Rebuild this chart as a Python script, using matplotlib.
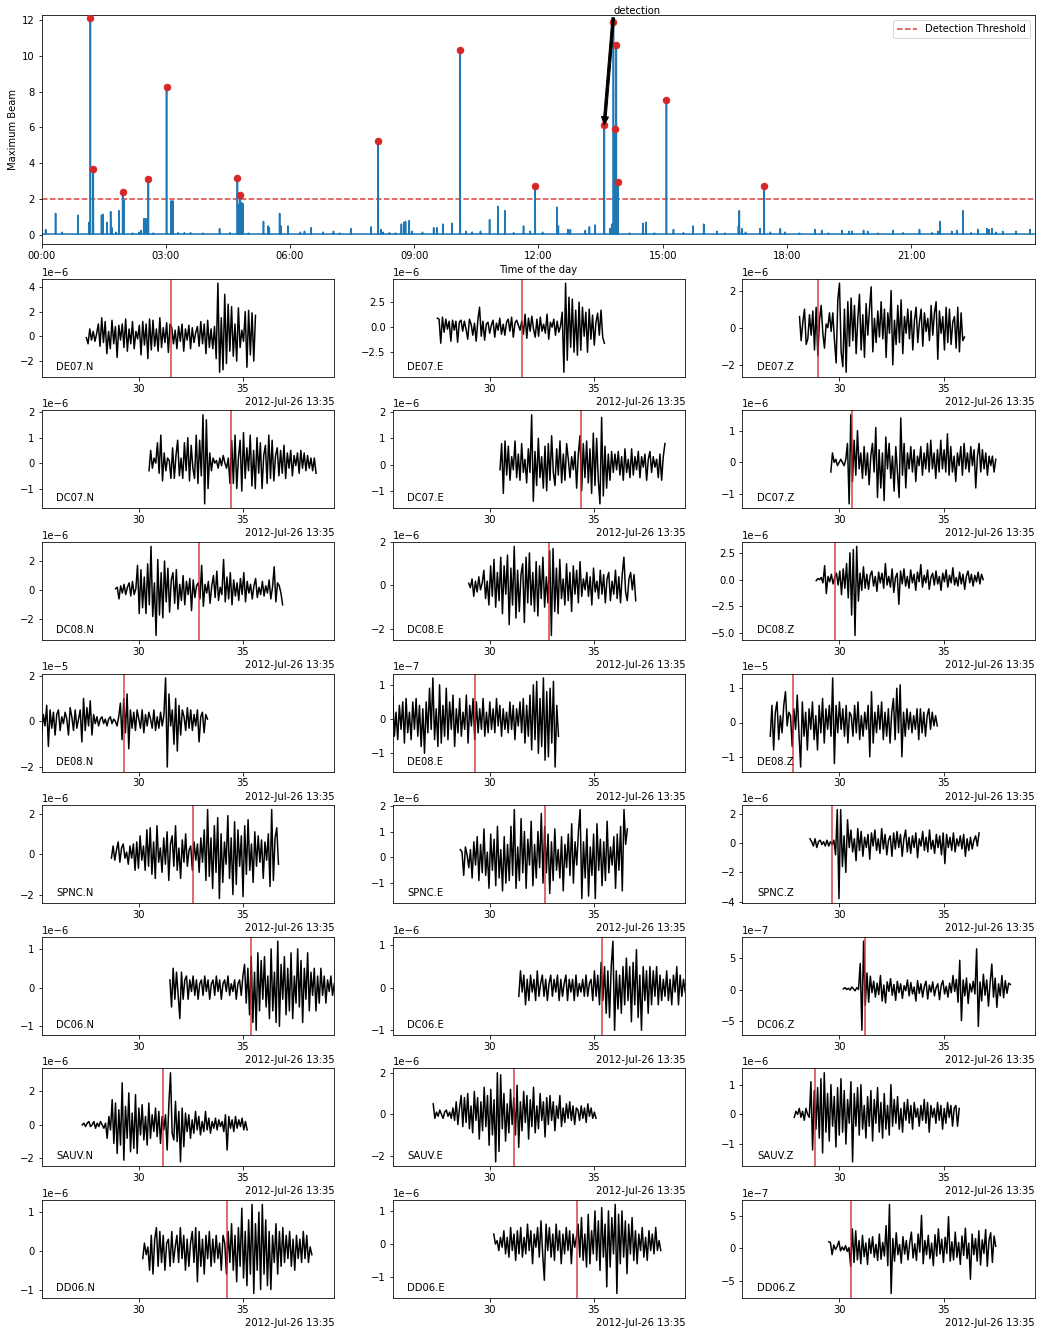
import numpy as np
import matplotlib
matplotlib.use("Agg")
import matplotlib.pyplot as plt
import matplotlib.dates as mdates

# ---------------- top panel data (hours of 2012-07-26, beam value) -------------
det_hours = [1.18, 1.25, 1.96, 2.58, 3.02, 4.73, 4.80, 8.13, 10.11, 11.92,
             13.59, 13.81, 13.85, 13.88, 13.92, 15.09, 17.45]
det_values = [12.1, 3.7, 2.4, 3.1, 8.25, 3.2, 2.25, 5.25, 10.3, 2.75,
              6.15, 11.9, 5.9, 10.6, 2.95, 7.55, 2.75]

minor_hours = [0.10, 0.34, 0.50, 0.88, 1.15, 1.45, 1.48, 1.58, 1.67, 1.70, 1.80,
               1.87, 1.99, 2.20, 2.35, 2.40, 2.47, 2.50, 2.54, 2.70, 3.13, 3.17,
               3.30, 3.45, 3.60, 3.90, 4.30, 4.55, 4.76, 4.83, 4.86, 5.00, 5.36,
               5.47, 5.50, 5.75, 5.78, 5.95, 6.25, 6.35, 6.51, 6.80, 7.05, 7.20,
               7.47, 7.96, 8.20, 8.25, 8.40, 8.55, 8.69, 8.75, 8.79, 8.88, 8.95,
               9.20, 9.47, 9.55, 9.69, 9.91, 10.25, 10.40, 10.60, 10.82, 11.02,
               11.19, 11.40, 11.64, 11.80, 12.10, 12.45, 12.48, 12.71, 12.77,
               13.13, 13.23, 13.37, 13.73, 13.77, 13.83, 14.20, 14.52, 14.60,
               14.80, 15.26, 15.50, 15.73, 15.99, 16.31, 16.50, 16.83, 16.85,
               16.91, 17.00, 17.35, 17.60, 17.84, 17.95, 18.30, 18.68, 18.84,
               19.00, 19.33, 19.50, 19.57, 19.85, 19.95, 20.20, 20.56, 20.80,
               21.20, 21.50, 21.65, 21.70, 21.98, 22.10, 22.25, 22.45, 22.61,
               22.83, 22.88, 22.95, 23.05, 23.21, 23.53, 23.87]
minor_values = [0.30, 1.20, 0.15, 1.10, 0.70, 1.10, 1.15, 0.70, 1.30, 0.40, 0.15,
                1.35, 1.95, 0.10, 0.15, 0.25, 0.90, 0.90, 0.90, 0.10, 1.90, 1.90,
                0.12, 0.12, 0.12, 0.10, 0.35, 0.12, 1.70, 1.80, 1.75, 0.10, 0.75,
                0.50, 0.40, 1.20, 0.50, 0.50, 0.15, 0.20, 0.40, 0.15, 0.20, 0.10,
                0.35, 0.45, 0.30, 0.15, 0.12, 0.10, 0.60, 0.70, 0.75, 0.80, 0.20,
                0.15, 0.40, 0.40, 0.60, 0.65, 0.20, 0.15, 0.20, 0.85, 1.60,
                1.35, 0.12, 0.50, 0.20, 0.15, 1.55, 0.50, 0.30, 0.30,
                0.25, 0.45, 0.55, 0.35, 0.60, 4.50, 0.10, 0.65, 0.70,
                0.10, 0.30, 0.12, 0.50, 0.60, 0.20, 0.10, 0.50, 1.35,
                0.35, 0.15, 0.35, 0.15, 0.35, 0.15, 0.10, 0.30, 0.25,
                0.10, 0.25, 0.20, 0.20, 0.25, 0.20, 0.10, 0.25, 0.12,
                0.30, 0.12, 0.20, 0.75, 0.20, 0.25, 1.35, 0.12, 0.30,
                0.35, 0.30, 0.35, 0.15, 0.20, 0.20, 0.30]
baseline = 0.05
threshold = 2.0
arrow_from = (13.81, 11.9)
arrow_to = (13.59, 6.15)

# ---------------- waveform panels (seconds after 13:35:00) ----------------------
stations = ["DE07.N", "DE07.E", "DE07.Z", "DC07.N", "DC07.E", "DC07.Z",
            "DC08.N", "DC08.E", "DC08.Z", "DE08.N", "DE08.E", "DE08.Z",
            "SPNC.N", "SPNC.E", "SPNC.Z", "DC06.N", "DC06.E", "DC06.Z",
            "SAUV.N", "SAUV.E", "SAUV.Z", "DD06.N", "DD06.E", "DD06.Z"]
starts = [27.5, 27.5, 28.1, 30.5, 30.5, 29.6, 28.9, 29.0, 28.9, 25.36, 25.36, 26.7,
          28.7, 28.6, 28.6, 31.5, 31.4, 30.2, 27.3, 27.3, 27.85, 30.2, 30.2, 29.5]
ends = [35.6, 35.5, 36.0, 38.5, 38.4, 37.5, 36.9, 37.0, 36.9, 33.3, 33.3, 34.7,
        36.7, 36.6, 36.7, 39.37, 39.37, 38.2, 35.2, 35.1, 35.75, 38.3, 38.2, 37.5]
picks = [31.55, 31.55, 29.0, 34.41, 34.37, 30.6, 32.88, 32.85, 29.78, 29.32, 29.3, 27.8,
         32.63, 32.64, 29.66, 35.37, 35.38, 31.22, 31.15, 31.15, 28.82, 34.23, 34.2, 30.56]
units = [1e-7, 1e-7, 1e-7, 1e-7, 1e-7, 1e-7, 1e-7, 1e-7, 1e-7, 1e-6, 1e-8, 1e-6,
         1e-7, 1e-7, 1e-7, 1e-7, 1e-7, 1e-8, 1e-7, 1e-7, 1e-7, 1e-7, 1e-7, 1e-8]

w_DE07_N = [-1, -6, 6, -3, 4, -4, 2, 10, -8, 15,
            -5, 12, -14, 4, -10, 13, -6, 8, -17, 9,
            -3, 10, -9, 14, -12, 6, -6, 12, -10, 4,
            -2, 9, -15, 12, -7, 10, -18, 14, -11, 13,
            -8, 6, -12, 15, -9, 7, -5, 11, -13, 10,
            7, -6, 5, -10, 8, -4, 10, -12, 6, -3,
            9, -10, 7, -5, 3, 8, -8, 12, -6, 10,
            -14, 13, -9, 6, -10, 8,
            -18, 43, -29, 15, -27, 34, -22, 26, -12, 24, -16, 10,
            -20, 23, -9, 5, -4, 20, -25, 21, -15, 19, -20, 17]
w_DE07_E = [9, 8, -16, 10, -5, 8, -2, 6, -14, 7,
            -3, 6, -15, 5, 7, -4, 6, -2, -12, 8,
            3, -8, 4, -14, 7, 20, -9, 6, -13, 3,
            5, -6, 2, 7, -10, 4, -3, 9, -7, 3,
            -8, 5, 8, -4, 10, -10, 4, 7, 2, -3,
            6, -7, 13, -11, 9, -4, 11, -2, -10, 8,
            -9, 10, -4, 3, -6, 13, -12, 5, 0, 8,
            -8, 6, -5, 1, 15,
            -45, 44, -33, 30, -20, 28, -25, 17, -28, 25, -23, 20, -9,
            15, -25, 18, -12, 12, -18, 5, 14, -8, 17, -10, -16]
w_DE07_Z = [6, -7, 3, 10, -9, -6, 7, -4, 9, -12,
            11, -15, 4, 12, -3, -11, 2, 0, 8, -2,
            8, -7, -19, 15, 24, -13, -21, 10, -24, 14,
            -10, 16, -7, 12, -14, 5, 18, -12, 7, -16,
            13, -4, 10, 22, -13, 5, -8, 9, -5, 14,
            -6, 10, -16, 8, -3, 20, -20, 4, -9, 12,
            -8, 15, -14, 6, -3, 10, -6, 9, -12, 4,
            11, -8, 3, 10, -10, 8, -2, 5, -7, 12,
            -4, 8, 14, -17, 9, -3, 6, -12, 11, -8,
            10, -9, 3, 6, -11, 11, -13, 8, -7, -5]
w_DC07_N = [-3, 5, -2, 2, 0, 8, -4, 11, -7, 4,
            -3, 2, 1, -6, 6, -6, 3, 9, -5, 2,
            -6, 8, -3, 10, -7, 7, -2, -6, 11, -8,
            9, -5, 19, -16, 17, -10, 4, -3, 2, 0,
            1, -2, 2, -1, 3, 0, -2, 2, -8, 9,
            -8, 11, -10, 2, 9, -11, 12, -6, 6, -3,
            11, -9, 5, -10, 10, -4, 8, -10, 3, 7,
            -8, 11, -6, 9, -7, 3, 6, -5, 5, -4,
            7, -6, 4, -2, 5, -5, 3, -1, 4, -4,
            5, -2, 4, -3, 3, -2, 2, -3, 2, -4]
w_DC07_E = [-2, 8, -11, 9, -4, 7, -6, 3, -2, 9,
            -5, 4, -6, 8, -3, 2, -7, 6, -3, 19,
            -14, 5, -8, 10, -5, 3, -9, 7, -10, 8,
            -6, 11, -3, -8, 6, -4, 9, -7, 4, -6,
            8, 2, -5, 3, -2, 5, -9, 4, 11, -10,
            8, -5, 9, -7, 6, -11, 12, -8, 10, -6,
            -15, 18, -12, 7, -9, 4, -6, 5, -3, 4,
            -2, 5, -4, 3, -6, 6, -3, 2, -5, 6,
            -4, 3, -2, 5, -5, 3, -1, 4, -6, 2,
            5, -3, 3, -1, 2, -5, 4, -6, 3, 8]
w_DC07_Z = [-3, 3, 0, 1, -1, 0, 1, 0, -1, 1,
            6, -13, 15, -6, 7, -4, 10, -2, 3, -5,
            5, -4, 3, -7, 2, 6, -3, 11, -11, 4,
            -8, 3, -12, 8, -2, 6, -5, 2, -9, 5,
            -3, -11, 14, -4, 6, -8, 3, -2, 5, -3,
            4, -6, 2, -1, 5, -4, 3, -2, 6, -3,
            7, -2, 3, -5, 4, -3, 7, -2, 4, -3,
            9, -4, 5, -3, 2, -6, 3, -1, 5, -4,
            6, -2, 3, -3, 5, -1, 4, -8, 2, 6,
            -3, 4, -2, 3, -4, 2, -1, 2, -3, 1]
w_DC08_N = [1, 2, -6, 3, -2, 4, -3, 2, 5, -4,
            6, -3, 1, 17, -16, 14, -12, 9, -16, 18,
            -10, 30, -18, 5, -31, 21, -17, 12, -19, 20,
            -8, 15, -15, 7, 12, -9, 14, -13, 4, -7,
            10, -10, 6, -3, 8, -14, 7, -5, 3, 5,
            -6, 17, -11, 4, -2, 6, -9, 3, 10, -5,
            13, -7, 2, -3, 21, -8, 9, -6, 12, -10,
            7, -4, 5, -7, 8, -3, 12, -8, 6, -2,
            4, -6, 3, 8, -5, 2, -3, 6, -4, 3,
            -2, 7, -6, 2, 16, -8, 5, 3, -2, -10]
w_DC08_E = [1, -1, 3, -5, 2, -3, 4, -2, 1, 7,
            -6, 2, -9, 9, -5, 12, -10, 6, -7, 13,
            -13, 9, -4, 14, -18, 8, -9, 18, -15, 7,
            -12, 5, 10, -17, 13, -8, 15, -9, 6, -12,
            11, -14, 9, -6, 13, -10, 4, -8, 16, -23,
            17, -12, 8, -13, 12, -6, 3, -9, 10, -7,
            6, -12, 9, -4, 7, -8, 11, -5, 3, -2,
            6, -5, 4, -9, 8, -3, 2, -6, 7, -4,
            5, -8, 3, 6, -7, 2, -4, 7, -6, 4,
            -8, 5, 13, -3, -7, 3, 6, -2, 5, -7]
w_DC08_Z = [-1, 1, 0, 2, -3, 13, -13, 3, -2, 5,
            -4, 2, 6, -5, 8, -14, 10, -8, 15, -17,
            25, -33, 28, -52, 31, -20, 6, -10, 12, -8,
            5, -9, 4, 8, -6, 3, -11, 7, -3, 6,
            -8, 15, -5, 3, -7, 10, -12, 2, 6, -23,
            8, -4, 10, -6, 3, -8, 9, -3, 5, -10,
            7, -2, 14, -7, 4, -3, 9, -9, 2, 6,
            -5, 8, -4, 3, -10, 6, -2, 9, -7, 4,
            -3, 11, -5, 2, -6, 7, -4, 5, -9, 3,
            8, -3, 5, -6, 4, -2, 7, -4, 5, 0]
w_DE08_N = [-5, 3, -2, 7, -11, 5, -3, 4, -6, 3,
            5, -4, 2, -1, 4, 1, -6, 6, 2, -4,
            5, -3, 1, 5, -9, 10, -4, 6, -2, 9,
            -6, 3, -1, 2, -2, 1, 2, -1, 1, -2,
            1, 2, -1, 1, 0, -2, 2, 8, -8, 10,
            -5, 12, -12, 5, -3, 4, -4, 5, 1, -3,
            5, -5, 3, -2, 4, 1, -3, 5, -4, 2,
            -3, 4, -2, 3, 19, -20, 12, -2, 5, -10,
            10, -13, 7, -6, 5, 2, -4, 6, -3, 5,
            -4, 3, -2, 5, -9, 2, 4, -5, 3, 1]
w_DE08_E = [7, -5, 2, -6, 4, -3, 5, -7, 6, -4,
            2, -6, 5, -3, 6, -5, 4, -8, 3, -10,
            5, -4, 9, -3, 12, -6, 3, -8, 10, -7,
            4, -5, 9, -6, 5, -3, 7, -8, 3, -4,
            6, -5, 2, -3, 7, -7, 4, -2, 6, -6,
            5, -4, 3, -3, 6, -5, 2, -4, 5, -3,
            3, -4, 6, -2, 4, -5, 3, -3, 2, -4,
            5, -3, 4, -6, 3, -2, 5, -4, 6, -7,
            4, -5, 7, -9, 10, -6, 11, -10, 6, -8,
            12, -12, 8, -11, 9, -7, 11, -14, 4, -5]
w_DE08_Z = [-4, 5, -8, 3, 6, -5, 2, -3, 5, 9,
            -1, 3, 2, -7, 4, -2, 8, -3, -13, 6,
            -4, 3, -8, 4, -2, 6, -5, 2, -8, 5,
            -3, 7, -6, 4, -2, 5, -4, 13, -12, 5,
            -3, 6, -2, 4, -4, 5, -6, 3, 2, -4,
            5, -3, 6, -5, 2, -4, 3, -2, 5, -10,
            9, -6, 3, -3, 5, -2, 6, -5, 3, -4,
            4, -6, 3, 7, -5, 10, -3, 11, -10, 3,
            -4, 4, -2, 3, -3, 2, -2, 4, -5, 4,
            -3, 3, -4, 2, 4, -2, 3, -1, 2, -1]
w_SPNC_N = [-2, 4, -3, 2, 6, -4, 3, 5, -2, 1,
            -5, 4, -2, 5, -8, 6, -7, 9, -3, 4,
            -8, 12, -6, 13, -10, 6, -12, 14, -4, 3,
            -9, 8, -5, 11, -13, 5, 9, -6, 14, -8,
            3, -12, 7, -4, 10, -6, 2, 4, -8, 6,
            -3, 5, -9, 8, -4, 12, -13, 22, -11, 8,
            -17, 14, -9, 18, -22, 10, -14, 6, -5, 19,
            -12, 8, -20, 16, -15, 12, -6, 9, -21, 14,
            -10, 17, -8, 5, -14, 11, -6, 9, -4, 7,
            -12, 6, -3, 10, -16, 22, -13, 8, 13, -5]
w_SPNC_E = [3, 2, -7, 4, 1, -4, 3, -8, 6, -3,
            8, -9, 5, -6, 11, -7, 2, -12, 9, -5,
            7, -11, 12, -8, 3, -13, 8, -10, 5, -9,
            12, -7, 18.5, -12, 4, -9, 15, -6, 10, -12,
            7, -3, 14, -11, 5, -8, 10, -4, 17, -10,
            12, -6, 9, -14, 6, -9, 11, -5, 3, -8,
            8, -13, 5, -4, 9, -7, 13, -10, 6, -3,
            10, 18.5, -16, 6, -8, 11, -15, 4, -7, 9,
            -16, 13, -5, 7, -11, 6, -9, 14, -6, 4,
            -3, 8, -12, 9, -5, 12, -13, 18.5, 5, 11]
w_SPNC_Z = [3, 1, -2, 3, -3, 1, 2, -1, 1, -2,
            2, -2, 1, -1, 2, -8, 23, -38, 23, -16,
            5, -20, 16, -3, 9, -6, 3, -12, 10, -5,
            8, -9, 4, -3, 6, -11, 7, -2, 9, -5,
            3, -7, 10, -4, 6, -8, 2, 5, -9, 7,
            -4, 8, -3, 6, -9, 3, 9, -6, 4, -7,
            5, -3, 7, -10, 3, -2, 8, -5, 4, -6,
            9, -4, 2, -7, 6, -3, 5, -8, 7, -14,
            6, -3, 4, -5, 7, -6, 3, -2, 5, -4,
            6, -9, 3, -5, 4, -4, 2, 5, -2, 7]
w_DC06_N = [2, -5, 5, -3, 4, -2, -8, 4, -3, 2,
            3, -3, 2, -1, 3, -2, 2, -3, 1, 2,
            -2, 3, -1, 2, -3, 1, 2, -2, 3, -1,
            2, -3, 1, 2, -1, 3, -2, 1, -1, 2,
            -3, 1, 2, -2, 3, 6, -4, 5, -7, 8,
            -9, 4, -11, 9, -6, 7, -3, 8, -5, 3,
            -8, 10, -6, 4, -9, 12, -10, 6, -3, 8,
            -7, 5, -6, 9, -8, 3, -4, 10, -5, 7,
            -9, 5, -3, 9, -6, 4, -2, 5, -6, 3,
            -4, 5, -2, 3, -4, 2, -1, 3, -2, 1]
w_DC06_E = [-2, 4, -1, 3, -4, 2, -3, 3, -1, 2,
            -3, 4, -2, 1, 3, -2, 2, -3, 1, 3,
            -2, 2, -1, 3, -3, 2, -2, 1, 3, -3,
            2, -1, 2, -3, 3, -2, 1, -1, 2, -2,
            3, -2, 1, 2, -3, 4, -2, 3, -4, 6,
            -3, 5, -6, 4, -7, 5, 11, -10, 4, -5,
            3, -6, 5, -4, 7, -3, 5, -8, 6, -4,
            9, -7, 3, -10, 5, -3, 4, -6, 5, -4,
            4, -2, 5, -4, 3, -3, 2, -2, 4, -3,
            2, -4, 3, -1, 5, -4, 3, -2, 2, -1]
w_DC06_Z = [1, 3, 0, 2, -1, 4, 1, -2, 3, 0,
            41, -64, 76, -25, 26, -20, 21, -5, 13, -12,
            10, -8, 22, -18, 7, -21, 12, -3, 17, -9,
            8, -17, 13, -5, 9, -14, 6, -2, 15, -10,
            11, -7, 4, -18, 14, -6, 9, -12, 5, 13,
            -15, 7, -4, 12, -10, 3, 9, -16, 6, 14,
            -7, 5, -12, 10, -5, 22, -3, 16, -20, 46,
            -49, 15, -10, 18, -22, 9, -4, 13, -7, 64,
            -58, 12, -18, 24, -9, 15, -26, 10, 40, -12,
            18, -28, 9, -10, 22, -13, 14, -6, 10, 8]
w_SAUV_N = [0, 1, -1, 1, 2, -1, 0, 2, -2, 1,
            -1, 2, 0, -2, 1, -8, 5, -3, 15, -11,
            13, -17, 9, -12, 25, -21, 11, -8, 19, -16,
            7, -14, 18, -17, 10, -6, 12, -9, 5, -12,
            13, -8, 6, -4, 10, -7, 8, -11, 5, -3,
            6, -15, 12, 31, -5, -9, 14, -10, 8, -22,
            10, -13, 7, -4, 6, -8, 3, -5, 8, -3,
            5, -6, 2, -4, 8, -3, 4, -5, 2, -2,
            4, -3, 3, -1, 2, -4, 6, -15, 5, -2,
            3, -4, 5, -2, 3, -1, 4, -3, 2, -3]
w_SAUV_E = [5, -2, 1, -1, 2, 0, -2, 1, 2, -1,
            1, -2, 3, -3, 6, -5, 3, 9, -6, 8,
            -4, 10, -7, 4, -9, 11, -3, 8, -12, 6,
            -8, 13, -6, 9, -15, 12, -10, 7, -23, 20,
            -18, 19, -7, 10, -13, 5, -9, 12, -5, 8,
            -10, 14, -16, 6, -8, 11, -4, 9, -12, 7,
            -6, 13, -9, 4, -7, 10, -3, 6, -11, 8,
            -5, 9, -3, 6, -8, 4, -2, 9, -6, 3,
            -4, 5, -2, 6, -3, 4, -5, 3, 2, -3,
            4, -2, 3, -4, 5, -1, 3, -2, 1, -2]
w_SAUV_Z = [-1, 1, 0, 2, -1, 1, -2, 2, 0, -1,
            11, -12, 8, -5, 9, -8, 12, -13, 14, -6,
            7, -9, 10, -4, 6, -11, 9, -7, 12, -6,
            8, -10, 5, -3, 11, -16, 7, -4, 9, -7,
            10, -5, 3, -8, 6, -4, 8, -9, 5, -3,
            9, -6, 4, -8, 7, -5, 3, -7, 10, -4,
            5, -3, 6, -5, 2, -6, 4, -2, 5, -3,
            3, -5, 4, -1, 2, -4, 3, -2, 5, -3,
            4, -6, 3, -1, 2, -3, 4, -2, 3, -5,
            2, -3, 4, -1, 3, -4, 2, 3, -4, 2]
w_DD06_N = [-2, 2, -1, 1, -5, 4, -6, 3, 6, -4,
            5, -3, 4, -5, 2, 3, -4, 5, -3, 1,
            4, -3, 6, -2, 4, -5, 3, -4, 2, 5,
            -3, 6, -8, 5, -4, 3, -6, 4, -2, 5,
            -4, 3, -3, 4, -2, 2, -5, 4, 2, -6,
            5, -3, 7, -5, 4, -8, 6, -4, 11, -7,
            5, -9, 8, -6, 12, -11, 7, -5, 10, -10,
            12, -6, 8, -9, 5, -10, 4, -3, 7, -6,
            5, -4, 6, -3, 4, -2, 5, -4, 3, -5,
            4, -2, 3, -3, 5, -2, 4, -3, 1, -1]
w_DD06_E = [3, 0, 1, -2, 2, -1, 4, -3, 2, -4,
            5, -2, 3, -5, 4, -3, 5, -4, 2, -3,
            6, -2, 4, -6, 3, -1, 5, -4, 7, -3,
            -11, 6, -2, 5, -4, 3, -5, 6, -2, 4,
            -6, 3, -3, 5, -2, 4, -6, 3, -1, 2,
            6, -4, 8, -5, 3, -7, 9, -6, 4, -3,
            10, -5, 7, -8, 11, -4, 6, -13, 10, -7,
            8, -3, 12, -15, 9, -6, 10, -4, 7, -9,
            6, -3, 8, -5, 4, -6, 3, -2, 5, -4,
            2, -5, 4, -2, 3, -3, 5, -2, 1, -2]
w_DD06_Z = [10, 9, -10, 5, -2, 3, 11, -4, 2, -3,
            4, -5, 1, -28, 30, -22, 27, -18, 12, -24,
            20, -13, 8, -25, 15, -8, 18, -14, 6, -19,
            22, -17, 9, -12, 35, -27, 68, -70, 15, -20,
            24, -10, 6, -23, 18, -9, 12, -18, 8, 25,
            -15, 7, -19, 22, -6, 51, -24, 12, -10, 20,
            -16, 8, -27, 21, -12, 30, -9, 14, -22, 17,
            -8, 49, -20, 10, -18, 25, -14, 9, -25, 19,
            -11, 31, -16, 8, -48, 22, -10, 15, -20, 27,
            -26, 13, -8, 29, -28, 12, 24, -22, 19, 3]

waves = [w_DE07_N, w_DE07_E, w_DE07_Z, w_DC07_N, w_DC07_E, w_DC07_Z,
         w_DC08_N, w_DC08_E, w_DC08_Z, w_DE08_N, w_DE08_E, w_DE08_Z,
         w_SPNC_N, w_SPNC_E, w_SPNC_Z, w_DC06_N, w_DC06_E, w_DC06_Z,
         w_SAUV_N, w_SAUV_E, w_SAUV_Z, w_DD06_N, w_DD06_E, w_DD06_Z]

# ---------------------------------------------------------------------------
DAY = np.datetime64("2012-07-26T00:00:00")
MINUTE = np.datetime64("2012-07-26T13:35:00")


def hours_to_dt(h):
    return DAY + (np.asarray(h, dtype=float) * 3600e3).astype("timedelta64[ms]")


def secs_to_dt(s):
    return MINUTE + (np.asarray(s, dtype=float) * 1e3).astype("timedelta64[ms]")


W, H = 1041, 1334
DPI = 72
fig = plt.figure(figsize=(W / DPI, H / DPI), dpi=DPI)


def px_axes(left, top, right, bottom):
    return fig.add_axes([left / W, 1 - bottom / H, (right - left) / W, (bottom - top) / H])


# ---------------- top panel ----------------
ax0 = px_axes(41.5, 15, 1035, 243.7)
all_h = np.array(det_hours + minor_hours)
all_v = np.array(det_values + minor_values)
order = np.argsort(all_h)
all_h, all_v = all_h[order], all_v[order]
half = 0.004
line_h = [0.0]
line_v = [baseline]
for hh, vv in zip(all_h, all_v):
    line_h += [hh - half, hh, hh + half]
    line_v += [baseline, vv, baseline]
line_h.append(23.99)
line_v.append(baseline)
ax0.plot(hours_to_dt(line_h), line_v, color="tab:blue", lw=1.6, zorder=2)
ax0.plot(hours_to_dt(det_hours), det_values, "o", color="tab:red", ms=6.5, zorder=3)
ax0.axhline(threshold, color="tab:red", ls="--", lw=1.5, alpha=0.9,
            label="Detection Threshold", zorder=1)
ax0.set_xlim(hours_to_dt(0.0), hours_to_dt(23.99))
ax0.set_ylim(-0.49, 12.28)
ax0.xaxis.set_major_locator(mdates.HourLocator(byhour=range(0, 24, 3)))
ax0.xaxis.set_major_formatter(mdates.DateFormatter("%H:%M"))
ax0.set_yticks([0, 2, 4, 6, 8, 10, 12])
ax0.set_ylabel("Maximum Beam")
ax0.set_xlabel("Time of the day")
ax0.legend(loc="upper right")
ax0.annotate("detection",
             xy=(mdates.date2num(hours_to_dt(arrow_to[0])), arrow_to[1]),
             xytext=(mdates.date2num(hours_to_dt(arrow_from[0])), arrow_from[1] + 0.45),
             arrowprops=dict(facecolor="black", edgecolor="black", width=2.5,
                             headwidth=7, headlength=8, shrink=0.0))

# ---------------- waveform grid ----------------
col_left = [41.7, 392.7, 742.3]
col_w = 292.5
row_top0 = 278.7
row_step = 131.6
row_h = 98.0
xmin = min(starts)
xmax = max(ends)
for k, name in enumerate(stations):
    r, c = divmod(k, 3)
    top = row_top0 + r * row_step
    ax = px_axes(col_left[c], top, col_left[c] + col_w, top + row_h)
    vals = np.array(waves[k], dtype=float) * units[k]
    t = np.linspace(starts[k], ends[k], len(vals))
    ax.plot(secs_to_dt(t), vals, color="black", lw=1.5)
    ax.axvline(mdates.date2num(secs_to_dt(picks[k])), color="tab:red", lw=1.5, alpha=0.9)
    ax.set_xlim(secs_to_dt(xmin), secs_to_dt(xmax))
    loc = mdates.SecondLocator(bysecond=range(0, 60, 5))
    ax.xaxis.set_major_locator(loc)
    ax.xaxis.set_major_formatter(mdates.ConciseDateFormatter(loc))
    ax.text(0.05, 0.05, name, transform=ax.transAxes, ha="left", va="bottom")

fig.savefig("out.png", dpi=DPI)
